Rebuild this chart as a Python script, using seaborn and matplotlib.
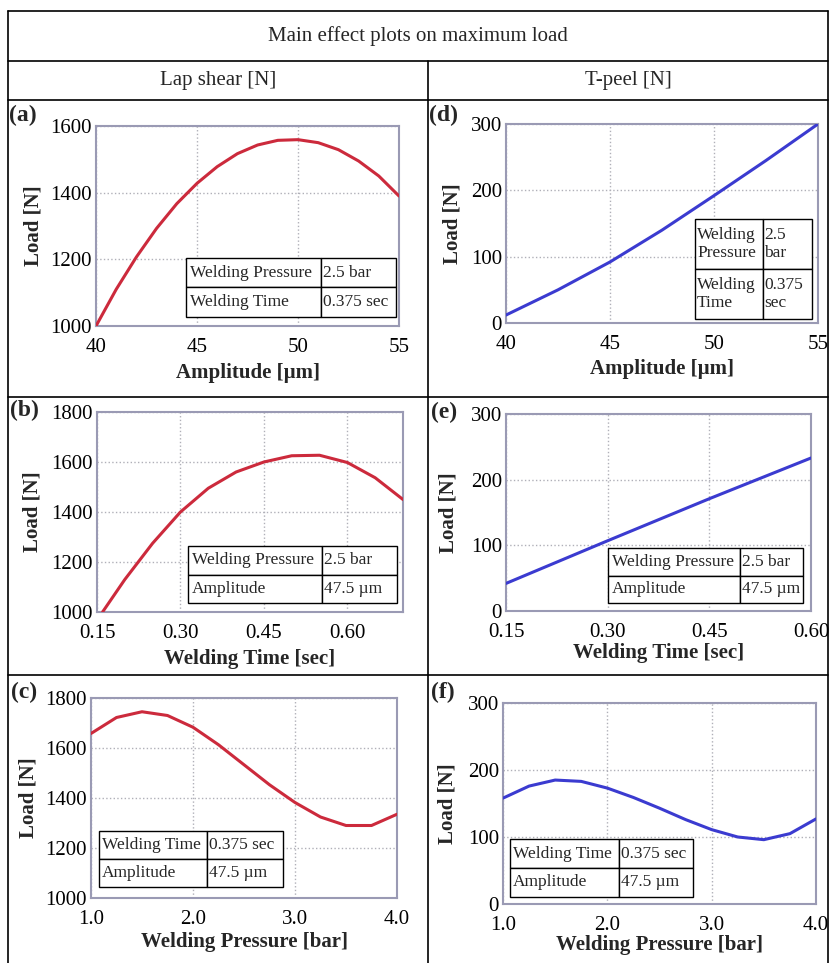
import matplotlib
matplotlib.use("Agg")
import matplotlib.pyplot as plt
from matplotlib.lines import Line2D
import seaborn as sns
import pandas as pd

# values
amp_a = [40, 41, 42, 43, 44, 45, 46, 47, 48, 49, 50, 51, 52, 53, 54, 55]
load_a = [1000, 1110, 1207, 1293, 1367, 1428, 1478, 1517, 1543, 1557, 1559, 1550, 1529, 1495, 1450, 1390]

time_b = [0.16, 0.20, 0.25, 0.30, 0.35, 0.40, 0.45, 0.50, 0.55, 0.60, 0.65, 0.70]
load_b = [1000, 1130, 1275, 1400, 1495, 1560, 1600, 1625, 1627, 1598, 1537, 1450]

pres_c = [1.0, 1.25, 1.5, 1.75, 2.0, 2.25, 2.5, 2.75, 3.0, 3.25, 3.5, 3.75, 4.0]
load_c = [1658, 1722, 1745, 1730, 1683, 1613, 1533, 1453, 1382, 1324, 1290, 1290, 1335]

amp_d = [40, 42.5, 45, 47.5, 50, 52.5, 55]
load_d = [12, 50, 92, 140, 192, 245, 300]

time_e = [0.15, 0.30, 0.45, 0.60]
load_e = [42, 107, 171, 233]

pres_f = [1.0, 1.25, 1.5, 1.75, 2.0, 2.25, 2.5, 2.75, 3.0, 3.25, 3.5, 3.75, 4.0]
load_f = [158, 176, 185, 183, 173, 159, 143, 126, 111, 100, 96, 105, 127]

tab_a = [["Welding Pressure", "2.5 bar"], ["Welding Time", "0.375 sec"]]
tab_b = [["Welding Pressure", "2.5 bar"], ["Amplitude", "47.5 µm"]]
tab_c = [["Welding Time", "0.375 sec"], ["Amplitude", "47.5 µm"]]
tab_d = [["Welding\nPressure", "2.5\nbar"], ["Welding\nTime", "0.375\nsec"]]

sns.set_theme(style="whitegrid")
plt.rcParams['font.family'] = ['Liberation Serif', 'DejaVu Serif']

W, H = 830, 963
fig = plt.figure(figsize=(W / 100, H / 100), dpi=100)
RED = '#cc2a3c'
BLUE = '#3b3bd0'


def fx(x):
    return x / W


def fy(y):
    return 1 - y / H


def panel(box, x, y, color, xlim, ylim, xticks, yticks, xfmt, xlabel,
          tag, tag_xy, ylab_x, xlab_y, table, tab_box, col_w):
    l, t, r, b = box
    ax = fig.add_axes([fx(l), fy(b), (r - l) / W, (b - t) / H])
    df = pd.DataFrame({'x': x, 'y': y})
    sns.lineplot(data=df, x='x', y='y', ax=ax, color=color, linewidth=2.2,
                 zorder=3)
    ax.set_xlim(*xlim)
    ax.set_ylim(*ylim)
    ax.set_xticks(xticks)
    ax.set_xticklabels([xfmt.format(v) for v in xticks])
    ax.set_yticks(yticks)
    ax.tick_params(axis='both', length=0, labelsize=15, colors='black')
    ax.tick_params(axis='x', pad=8.5)
    ax.tick_params(axis='y', pad=3)
    ax.grid(True, color='#b0b0b8', linestyle=':', linewidth=1.0)
    ax.set_facecolor('white')
    for s in ax.spines.values():
        s.set_color('#9a9ab4')
        s.set_linewidth(1.5)
    ax.set_xlabel(xlabel, fontsize=15, fontweight='bold')
    ax.set_ylabel('Load [N]', fontsize=15, fontweight='bold')
    ax.xaxis.label.set_verticalalignment('center')
    ax.yaxis.label.set_verticalalignment('center')
    ax.xaxis.set_label_coords(0.5, (b - xlab_y) / (b - t))
    ax.yaxis.set_label_coords((ylab_x - l) / (r - l), 0.5)
    fig.text(fx(tag_xy[0]), fy(tag_xy[1]), tag, fontsize=17,
             fontweight='bold', ha='left', va='center')
    # parameter table
    tl, tt, tr, tb = tab_box
    bbox = [(tl - l) / (r - l), (b - tb) / (b - t), (tr - tl) / (r - l), (tb - tt) / (b - t)]
    tbl = ax.table(cellText=table, colWidths=col_w, bbox=bbox, cellLoc='left',
                   zorder=5)
    tbl.auto_set_font_size(False)
    tbl.set_fontsize(12.5)
    for cell in tbl.get_celld().values():
        cell.set_edgecolor('black')
        cell.set_linewidth(1.0)
        cell.set_facecolor('white')
        cell.PAD = 0.03
    return ax


panel((96, 126, 399, 326), amp_a, load_a, RED, (40, 55), (1000, 1600),
      [40, 45, 50, 55], [1000, 1200, 1400, 1600], '{:.0f}', 'Amplitude [µm]',
      '(a)', (9, 115), 33, 373, tab_a, (186, 258, 396, 317), [0.643, 0.357])
panel((97, 412, 403, 612), time_b, load_b, RED, (0.15, 0.70), (1000, 1800),
      [0.15, 0.30, 0.45, 0.60], [1000, 1200, 1400, 1600, 1800], '{:.2f}',
      'Welding Time [sec]', '(b)', (10, 410), 33, 659, tab_b,
      (188, 546, 397, 603), [0.64, 0.36])
panel((91, 698, 397, 898), pres_c, load_c, RED, (1.0, 4.0), (1000, 1800),
      [1.0, 2.0, 3.0, 4.0], [1000, 1200, 1400, 1600, 1800], '{:.1f}',
      'Welding Pressure [bar]', '(c)', (11, 692), 28, 942, tab_c,
      (99, 831, 283, 887), [0.587, 0.413])
panel((506, 124, 818, 323), amp_d, load_d, BLUE, (40, 55), (0, 300),
      [40, 45, 50, 55], [0, 100, 200, 300], '{:.0f}', 'Amplitude [µm]',
      '(d)', (429, 115), 452, 369, tab_d, (695, 219, 812, 319), [0.58, 0.42])
panel((506, 414, 811, 611), time_e, load_e, BLUE, (0.15, 0.60), (0, 300),
      [0.15, 0.30, 0.45, 0.60], [0, 100, 200, 300], '{:.2f}',
      'Welding Time [sec]', '(e)', (431, 412), 448, 653, tab_b,
      (608, 548, 803, 603), [0.677, 0.323])
panel((503, 703, 816, 904), pres_f, load_f, BLUE, (1.0, 4.0), (0, 300),
      [1.0, 2.0, 3.0, 4.0], [0, 100, 200, 300], '{:.1f}',
      'Welding Pressure [bar]', '(f)', (431, 692), 447, 945, tab_c,
      (510, 839, 693, 897), [0.596, 0.404])

# outer table frame
def hline(y, x0=8, x1=828):
    fig.add_artist(Line2D([fx(x0), fx(x1)], [fy(y), fy(y)], color='black',
                          linewidth=1.2, transform=fig.transFigure))


def vline(x, y0, y1):
    fig.add_artist(Line2D([fx(x), fx(x)], [fy(y0), fy(y1)], color='black',
                          linewidth=1.2, transform=fig.transFigure))


for yy in [11, 61, 100, 397, 675]:
    hline(yy)
vline(8, 11, 963)
vline(828, 11, 963)
vline(428, 61, 963)

fig.text(fx(418), fy(36), 'Main effect plots on maximum load', fontsize=15,
         ha='center', va='center')
fig.text(fx(218), fy(80), 'Lap shear [N]', fontsize=15, ha='center', va='center')
fig.text(fx(628), fy(80), 'T-peel [N]', fontsize=15, ha='center', va='center')

fig.savefig('out.png', dpi=100)
